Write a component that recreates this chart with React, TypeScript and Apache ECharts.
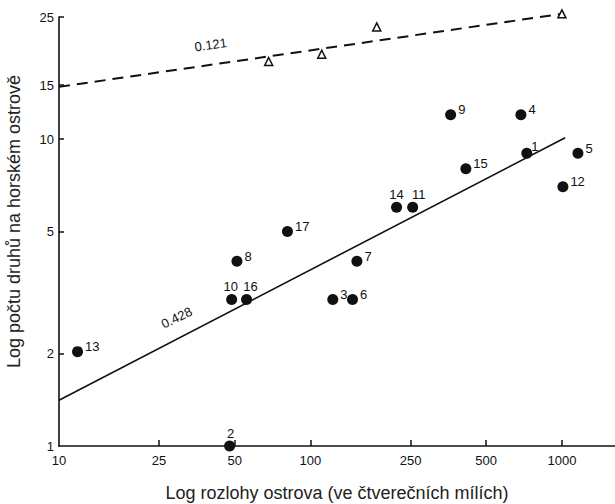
import React, { useEffect, useRef } from "react";
import * as echarts from "echarts";

// Island data (area in square miles, number of species), island ids 1..17
const islandIds = [1, 2, 3, 4, 5, 6, 7, 8, 9, 10, 11, 12, 13, 14, 15, 16, 17];
const islandAreas = [725, 47.7, 122.7, 687, 1158, 147, 153, 51, 361, 48.6, 255, 1009, 11.85, 220, 415, 55.7, 81];
const islandSpecies = [9, 1.0, 3.0, 12, 9, 3.0, 4.0, 4.0, 12, 3.0, 6.0, 7.0, 2.03, 6.0, 8.0, 3.0, 5.0];

// Triangles (upper group)
const triAreas = [68.2, 110.9, 183.5, 1000];
const triSpecies = [17.9, 18.9, 23.2, 25.6];

// Fitted lines
const solidFitAreas = [10, 1030];
const solidFitSpecies = [1.41, 10.1];
const dashedFitAreas = [10, 1000];
const dashedFitSpecies = [14.8, 25.6];

// Slope annotations
const slopeTexts = ["0.121", "0.428"];
const slopeAreas = [40.1, 29.4];
const slopeSpecies = [20.3, 2.62];

// Tick labels
const xTicks = [10, 25, 50, 100, 250, 500, 1000];
const yTicks = [1, 2, 5, 10, 15, 25];

const xMin = 10;
const xMax = 1626;
const yMin = 1;
const yMax = 25;

const lg = (v: number) => Math.log10(v);

const INK = "#111";
const FONT = "Liberation Sans, Arial, sans-serif";

const labelOverrides: Record<number, any> = {
  2: { position: "top", distance: 1, offset: [1, 0] },
  10: { position: "top", distance: 1, offset: [-1, 0] },
  14: { position: "top", distance: 1, offset: [0, 0] },
  16: { position: "top", distance: 1, offset: [4, 0] },
  11: { position: "top", distance: 1, offset: [6, 0] },
  1: { position: "right", distance: 0, offset: [-1, -7] },
};

export default function App() {
  const ref = useRef<HTMLDivElement>(null);
  useEffect(() => {
    if (!ref.current) return;
    const chart = echarts.init(ref.current, undefined, { renderer: "svg" });
    const baseLabel = { show: true, fontFamily: FONT, fontSize: 13, color: INK };
    const dots = islandIds.map((id, i) => {
      const o = labelOverrides[id];
      const d: any = { value: [lg(islandAreas[i]), lg(islandSpecies[i])], id: String(id) };
      if (o) d.label = { ...baseLabel, ...o };
      return d;
    });
    const slopeData = slopeTexts.map((t, i) => ({
      value: [lg(slopeAreas[i]), lg(slopeSpecies[i])],
      t,
      label: { ...baseLabel, position: "inside", rotate: i === 0 ? 8 : 26 },
    }));
    chart.setOption({
      animation: false,
      grid: { left: 59, right: 0, top: 17, bottom: 58, containLabel: false, outerBoundsMode: "none" },
      xAxis: {
        type: "value",
        min: lg(xMin),
        max: lg(xMax),
        name: "Log rozlohy ostrova (ve čtverečních mílích)",
        nameLocation: "middle",
        nameGap: 38,
        nameTextStyle: { fontFamily: FONT, fontSize: 18, color: "#222" },
        axisLine: { show: true, onZero: false, lineStyle: { color: INK, width: 1.6 } },
        axisTick: {
          show: true,
          inside: true,
          length: 6,
          customValues: xTicks.slice(1).map(lg),
          lineStyle: { color: INK, width: 1.5 },
        },
        axisLabel: {
          customValues: xTicks.map(lg),
          formatter: (v: number) => String(Math.round(Math.pow(10, v))),
          fontFamily: FONT,
          fontSize: 13,
          color: INK,
          margin: 8,
        },
        splitLine: { show: false },
      },
      yAxis: {
        type: "value",
        min: lg(yMin),
        max: lg(yMax),
        name: "Log počtu druhů na horském ostrově",
        nameLocation: "middle",
        nameGap: 36,
        nameTextStyle: { fontFamily: FONT, fontSize: 18, color: "#222", padding: [0, 0, 0, 20] },
        axisLine: { show: true, onZero: false, lineStyle: { color: INK, width: 1.6 } },
        axisTick: {
          show: true,
          inside: true,
          length: 5,
          customValues: yTicks.slice(1).map(lg),
          lineStyle: { color: INK, width: 1.5 },
        },
        axisLabel: {
          customValues: yTicks.map(lg),
          formatter: (v: number) => String(Math.round(Math.pow(10, v))),
          fontFamily: FONT,
          fontSize: 13,
          color: INK,
          margin: 5,
        },
        splitLine: { show: false },
      },
      series: [
        {
          type: "line",
          data: solidFitAreas.map((a, i) => [lg(a), lg(solidFitSpecies[i])]),
          showSymbol: false,
          symbol: "none",
          clip: false,
          lineStyle: { color: INK, width: 1.6 },
          z: 2,
        },
        {
          type: "line",
          data: dashedFitAreas.map((a, i) => [lg(a), lg(dashedFitSpecies[i])]),
          showSymbol: false,
          symbol: "none",
          clip: false,
          lineStyle: { color: INK, width: 2, type: [11, 7] },
          z: 2,
        },
        {
          type: "scatter",
          data: triAreas.map((a, i) => [lg(a), lg(triSpecies[i])]),
          symbol: "triangle",
          symbolSize: 8,
          clip: false,
          itemStyle: { color: "#fff", borderColor: INK, borderWidth: 1.5, opacity: 1 },
          z: 3,
        },
        {
          type: "scatter",
          data: dots,
          symbol: "circle",
          symbolSize: 11,
          clip: false,
          itemStyle: { color: INK, opacity: 1 },
          label: {
            ...baseLabel,
            position: "right",
            distance: 2,
            offset: [0, -5],
            formatter: (p: any) => p.data.id,
          },
          z: 4,
        },
        {
          type: "scatter",
          data: slopeData,
          symbolSize: 0,
          clip: false,
          itemStyle: { opacity: 1 },
          label: {
            ...baseLabel,
            position: "inside",
            formatter: (p: any) => p.data.t,
          },
          z: 5,
        },
      ],
    });
    return () => chart.dispose();
  }, []);
  return (
    <div
      ref={ref}
      style={{ position: "absolute", left: 0, top: 0, width: 615, height: 504, background: "#fff" }}
    />
  );
}
